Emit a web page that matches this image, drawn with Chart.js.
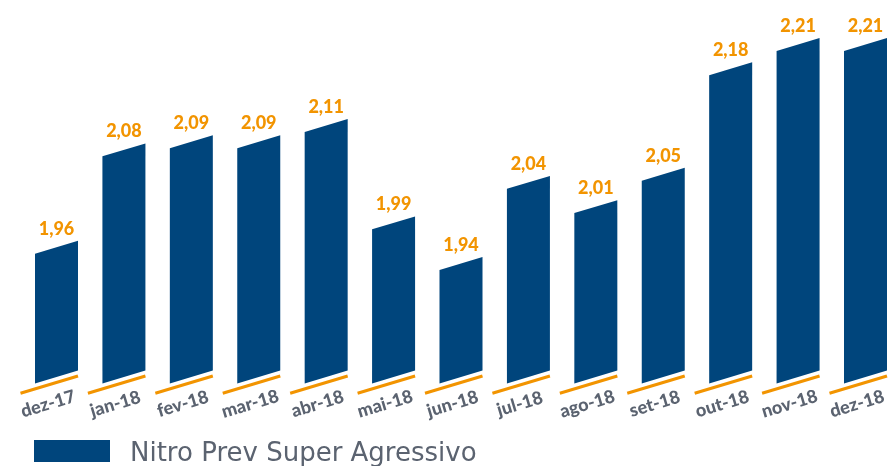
<!DOCTYPE html>
<html>
<head>
<meta charset="utf-8">
<script src="https://cdn.jsdelivr.net/npm/chart.js@4"></script>
<style>
  html, body { margin: 0; padding: 0; background: #fff; }
  #wrap { width: 888px; height: 466px; position: relative; }
</style>
</head>
<body>
<div id="wrap"><canvas id="grafico"></canvas></div>
<script>
// ===== Dados =====
const meses = ['dez-17', 'jan-18', 'fev-18', 'mar-18', 'abr-18', 'mai-18', 'jun-18', 'jul-18', 'ago-18', 'set-18', 'out-18', 'nov-18', 'dez-18'];
const cotas = [1.96, 2.08, 2.09, 2.09, 2.11, 1.99, 1.94, 2.04, 2.01, 2.05, 2.18, 2.21, 2.21];
const serieNome = 'Nitro Prev Super Agressivo';

// ===== Estilo =====
const AZUL = '#00457c', LARANJA = '#f29400', CINZA = '#5b6370';
const INCL = 0.3; // inclinação das barras (px vertical por px horizontal)
const fmt = v => v.toFixed(2).replace('.', ',');

// desenha barras como paralelogramos, linha laranja e rótulos
const slantPlugin = {
    id: 'slant',
    beforeDatasetsDraw(chart) {
        const ctx = chart.ctx;
        const meta = chart.getDatasetMeta(0);
        const bg = chart.data.datasets[0].backgroundColor;
        const yScale = chart.scales.y;
        const base = yScale.getPixelForValue(yScale.min);
        ctx.save();
        meta.data.forEach((bar, i) => {
            const x = bar.x, top = bar.y, h = bar.width / 2;
            // barra
            ctx.fillStyle = bg;
            ctx.beginPath();
            ctx.moveTo(x - h, top + INCL * h);
            ctx.lineTo(x + h, top - INCL * h);
            ctx.lineTo(x + h, base - INCL * h);
            ctx.lineTo(x - h, base + INCL * h);
            ctx.closePath();
            ctx.fill();
            // linha laranja
            const x0 = x - h - 14.5, x1 = x + h, yc = base + 5.4;
            ctx.strokeStyle = LARANJA;
            ctx.lineWidth = 3;
            ctx.beginPath();
            ctx.moveTo(x0, yc - INCL * (x0 - x));
            ctx.lineTo(x1, yc - INCL * (x1 - x));
            ctx.stroke();
            // valor
            ctx.fillStyle = LARANJA;
            ctx.font = "900 18px Lato";
            ctx.textAlign = 'center';
            ctx.textBaseline = 'alphabetic';
            ctx.fillText(fmt(cotas[i]), x, top - 12.5);
            // mês
            ctx.save();
            ctx.translate(x - 8.5, base + 27);
            ctx.rotate(Math.atan(-INCL));
            ctx.fillStyle = CINZA;
            ctx.font = "900 18px Lato";
            ctx.textBaseline = 'middle';
            ctx.fillText(meses[i], 0, 0);
            ctx.restore();
        });
        // legenda
        ctx.fillStyle = bg;
        ctx.fillRect(34, 440, 76, 22);
        ctx.fillStyle = CINZA;
        ctx.font = "26px 'DejaVu Sans'";
        ctx.textAlign = 'left';
        ctx.textBaseline = 'alphabetic';
        ctx.fillText(chart.data.datasets[0].label, 130, 461);
        ctx.restore();
        return false;
    }
};

new Chart(document.getElementById('grafico'), {
    type: 'bar',
    data: {
        labels: meses,
        datasets: [{ label: serieNome, data: cotas, backgroundColor: AZUL, barThickness: 43 }]
    },
    options: {
        responsive: true,
        maintainAspectRatio: false,
        animation: false,
        devicePixelRatio: 1,
        layout: { padding: { left: 56.5, right: 22.5, top: 12, bottom: 89 } },
        plugins: { legend: { display: false }, tooltip: { enabled: false } },
        scales: {
            x: { display: false, offset: false },
            y: { display: false, min: 1.8, max: 2.25 }
        }
    },
    plugins: [slantPlugin]
});
</script>
</body>
</html>
